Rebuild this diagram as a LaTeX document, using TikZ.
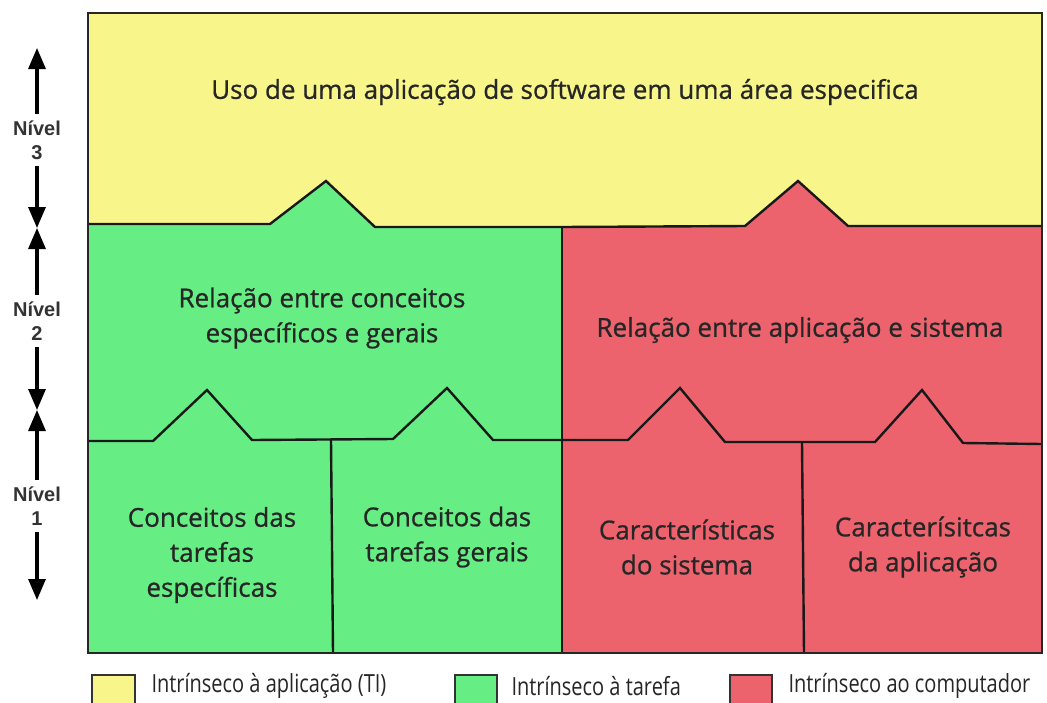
\documentclass[tikz,border=0pt]{standalone}
\usepackage{fontspec}
\setmainfont{Open Sans}
\newfontfamily\lblfont[FakeBold=0.8]{Open Sans}
\newfontfamily\lvlfont{Liberation Sans}
\newfontfamily\legfont[FakeStretch=0.8]{Open Sans}
\usetikzlibrary{arrows.meta}
\definecolor{cyel}{RGB}{248,246,138}
\definecolor{cgrn}{RGB}{102,238,133}
\definecolor{cred}{RGB}{236,99,110}
\tikzset{
  bnd/.style={line width=2.4pt, line join=miter, color=black!90},
  lbl/.style={align=center, font=\lblfont\fontsize{26}{35}\selectfont, text=black!85},
  lvl/.style={align=center, font=\lvlfont\bfseries\fontsize{20}{24}\selectfont, text=black!80},
  lvarrow/.style={line width=3.2pt, -{Triangle[width=17pt,length=21pt]}},
  legbox/.style={draw=black!80, line width=1.2pt},
  legtxt/.style={anchor=west, font=\legfont\fontsize{25}{28}\selectfont, text=black!85}
}
\begin{document}
\begin{tikzpicture}[x=1pt,y=-1pt]
\useasboundingbox (0,0) rectangle (1047,702);
\fill[white] (0,0) rectangle (1047,702);
% fills
\fill[cyel] (88,13) rectangle (1042,653);
\fill[cgrn] (88,224) -- (270,224) -- (326,181) -- (375,227) -- (562,227) -- (562,653) -- (88,653) -- cycle;
\fill[cred] (562,227) -- (745,226) -- (798,181) -- (848,226) -- (1042,226) -- (1042,653) -- (562,653) -- cycle;
% coordinates
\coordinate (gTop) at (562,227);
\coordinate (gBot) at (562,653);
\coordinate (d1Top) at (331,440);
\coordinate (d1Bot) at (333,653);
\coordinate (d2Top) at (802,442);
\coordinate (d2Bot) at (804,653);
% boundaries
\draw[bnd] (88,224) -- (270,224) -- (326,181) -- (375,227) -- (562,227) -- (745,226) -- (798,181) -- (848,226) -- (1042,226);
\draw[bnd] (88,441) -- (153,441) -- (207,390) -- (252,440) -- (393,439) -- (447,388) -- (493,440) -- (562,440) -- (628,440) -- (680,388) -- (725,442) -- (875,442) -- (922,390) -- (963,443) -- (1042,444);
\draw[bnd] (gTop) -- (gBot);
\draw[bnd] (d1Top) -- (d1Bot);
\draw[bnd] (d2Top) -- (d2Bot);
\draw[line width=2.2pt, color=black!85] (88,13) rectangle (1042,653);
% labels
\node[lbl] (top) at (565,92) {Uso de uma aplicação de software em uma área especifica};
\node[lbl] (rcg) at (322,318) {Relação entre conceitos\\específicos e gerais};
\node[lbl] (ras) at (800,330) {Relação entre aplicação e sistema};
\node[lbl] (cte) at (212,555) {Conceitos das\\tarefas\\específicas};
\node[lbl] (ctg) at (447,537) {Conceitos das\\tarefas gerais};
\node[lbl] (cs) at (687,547) {Características\\do sistema};
\node[lbl] (ca) at (923,547) {Caracterísitcas\\da aplicação};
% level arrows
\node[lvl] (n3) at (37,140) {Nível\\3};
\node[lvl] (n2) at (37,321) {Nível\\2};
\node[lvl] (n1) at (37,506) {Nível\\1};
\coordinate (t3) at (37,48);
\coordinate (m32) at (37,228);
\coordinate (m21) at (37,410);
\coordinate (b1) at (37,600);
\draw[lvarrow] (n3.north) ++(0,-3) coordinate (n3a) -- (t3);
\draw[lvarrow] (n3.south) ++(0,3) coordinate (n3b) -- (m32);
\draw[lvarrow] (n2.north) ++(0,-3) coordinate (n2a) -- (m32);
\draw[lvarrow] (n2.south) ++(0,3) coordinate (n2b) -- (m21);
\draw[lvarrow] (n1.north) ++(0,-3) coordinate (n1a) -- (m21);
\draw[lvarrow] (n1.south) ++(0,3) coordinate (n1b) -- (b1);
% legend
\draw[legbox, fill=cyel] (92,675) rectangle (135,706);
\node[legtxt] (l1) at (148,686) {Intrínseco à aplicação (TI)};
\draw[legbox, fill=cgrn] (455,675) rectangle (497,706);
\node[legtxt] (l2) at (508,686) {Intrínseco à tarefa};
\draw[legbox, fill=cred] (730,675) rectangle (772,706);
\node[legtxt] (l3) at (785,686) {Intrínseco ao computador};
\end{tikzpicture}
\end{document}
